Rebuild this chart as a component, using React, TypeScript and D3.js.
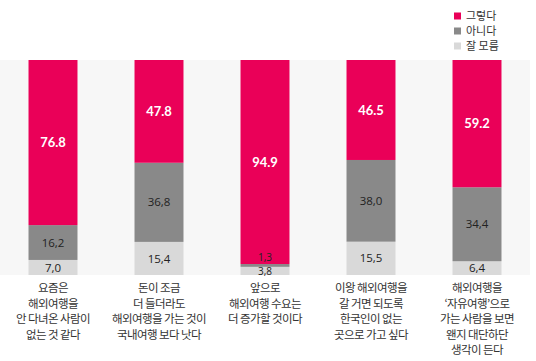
import React from "react";
import * as d3 from "d3";

const categories: string[][] = [
  ["요즘은", "해외여행을", "안 다녀온 사람이", "없는 것 같다"],
  ["돈이 조금", "더 들더라도", "해외여행을 가는 것이", "국내여행 보다 낫다"],
  ["앞으로", "해외여행 수요는", "더 증가할 것이다"],
  ["이왕 해외여행을", "갈 거면 되도록", "한국인이 없는", "곳으로 가고 싶다"],
  ["해외여행을", "‘자유여행’으로", "가는 사람을 보면", "왠지 대단하단", "생각이 든다"],
];
const yes = [76.8, 47.8, 94.9, 46.5, 59.2];
const no = [16.2, 36.8, 1.3, 38.0, 34.4];
const unsure = [7.0, 15.4, 3.8, 15.5, 6.4];
const seriesNames = ["그렇다", "아니다", "잘 모름"];
const colors = ["#ea0058", "#898989", "#d9d9d9"];

const W = 536;
const H = 361;
const top = 60;
const bottom = 275;

export default function App() {
  const x = d3
    .scaleBand<number>()
    .domain(d3.range(categories.length))
    .range([0, 530])
    .paddingInner(0.538)
    .paddingOuter(0.269);
  const y = d3.scaleLinear().domain([0, 100]).range([bottom, top]);

  const stack = d3
    .stack<number>()
    .keys(["unsure", "no", "yes"])
    .value((i, k) => (k === "yes" ? yes[i] : k === "no" ? no[i] : unsure[i]));
  const series = stack(d3.range(categories.length));
  const colorFor: Record<string, string> = { yes: colors[0], no: colors[1], unsure: colors[2] };
  const font = "'Noto Sans CJK KR', 'Noto Sans', sans-serif";

  const fmt = (k: string, v: number) =>
    k === "yes" ? v.toFixed(1) : v.toFixed(1).replace(".", ",");

  return (
    <svg width={W} height={H} style={{ position: "absolute", left: 0, top: 0 }}>
      <rect x={0} y={top} width={530} height={bottom - top} fill="#f7f7f7" />
      {series.map((s) => (
        <g key={s.key}>
          {s.map((d, i) => (
            <rect
              key={i}
              x={x(i)}
              y={y(d[1])}
              width={x.bandwidth()}
              height={y(d[0]) - y(d[1])}
              fill={colorFor[s.key]}
            />
          ))}
        </g>
      ))}
      {series.map((s) => (
        <g key={"l" + s.key}>
          {s.map((d, i) => {
            const v = d[1] - d[0];
            const cx = (x(i) as number) + x.bandwidth() / 2;
            let cy = (y(d[0]) + y(d[1])) / 2;
            const tiny = y(d[0]) - y(d[1]) < 12;
            if (s.key === "no" && tiny) cy = y(d[1]) - 7;
            if (s.key === "unsure" && tiny) cy += 0.5;
            return (
              <text
                key={i}
                x={cx}
                y={cy}
                dy="0.36em"
                textAnchor="middle"
                fontFamily={s.key === "yes" ? "Lato, sans-serif" : "'Open Sans', sans-serif"}
                fontWeight={s.key === "yes" ? 700 : 400}
                fontSize={s.key === "yes" ? 13 : tiny ? 10 : 11.5}
                fill={s.key === "yes" ? "#ffffff" : "#222222"}
              >
                {fmt(s.key, v)}
              </text>
            );
          })}
        </g>
      ))}
      {categories.map((lines, i) => (
        <text
          key={"c" + i}
          x={(x(i) as number) + x.bandwidth() / 2}
          textAnchor="middle"
          fontFamily={font}
          fontSize={11.5}
          letterSpacing={-0.6}
          fill="#333333"
        >
          {lines.map((ln, j) => (
            <tspan key={j} x={(x(i) as number) + x.bandwidth() / 2} y={292 + j * 15.5}>
              {ln}
            </tspan>
          ))}
        </text>
      ))}
      {seriesNames.map((n, i) => (
        <g key={"lg" + i} transform={`translate(454,${16 + i * 15})`}>
          <rect x={0} y={-3.5} width={7} height={7} fill={colors[i]} />
          <text x={12} dy="0.36em" fontFamily={font} fontSize={11} fill="#333333">
            {n}
          </text>
        </g>
      ))}
    </svg>
  );
}
